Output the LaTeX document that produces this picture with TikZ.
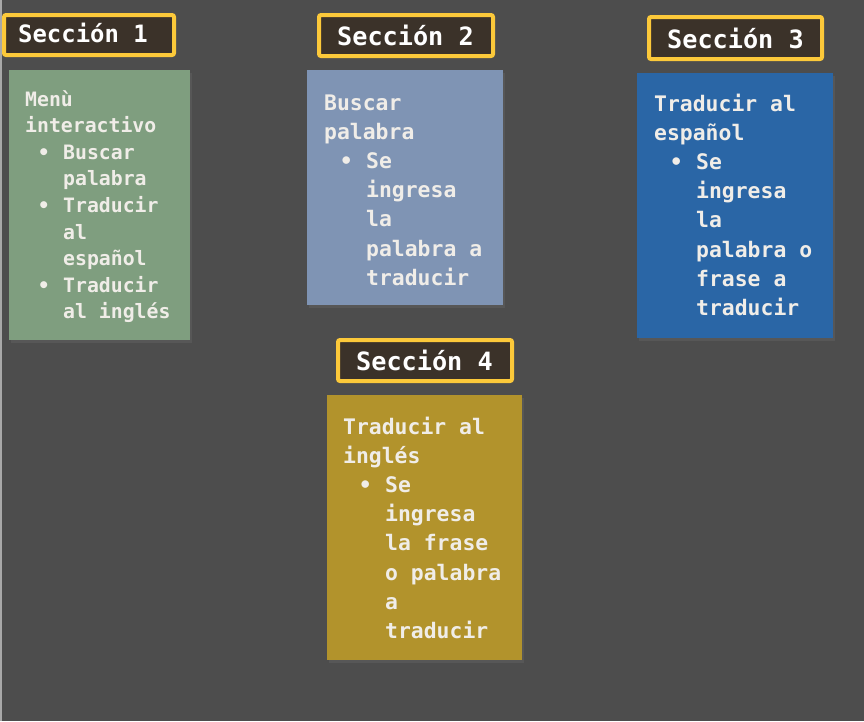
\documentclass[tikz,border=0pt]{standalone}
\usepackage{fontspec}
\setmonofont{DejaVu Sans Mono}
\usetikzlibrary{shadows}
\definecolor{bgc}{HTML}{4D4D4D}
\definecolor{edgec}{HTML}{A8A8A8}
\definecolor{titlefill}{HTML}{3B3229}
\definecolor{titleborder}{HTML}{FCC93A}
\definecolor{greenbox}{HTML}{7F9E7F}
\definecolor{greybluebox}{HTML}{7F94B4}
\definecolor{bluebox}{HTML}{2A66A6}
\definecolor{goldbox}{HTML}{B2932C}
\definecolor{txt}{HTML}{F0EDE8}
\newlength\indw
\newcommand\ind{\hspace*{\indw}}
\newcommand\bitem{\makebox[0pt][r]{•\hspace{13.5pt}}}
\tikzset{
  titlebox/.style={draw=titleborder, line width=4pt, fill=titlefill, rounded corners=2pt},
  cardbox/.style={draw=none, drop shadow={opacity=0.2, shadow xshift=1.5pt, shadow yshift=-2.5pt}},
  titletext/.style={anchor=base west, inner sep=0pt, text=white, font=\ttfamily\bfseries\fontsize{25.2}{30}\selectfont},
  cardtext/.style={anchor=base west, inner sep=0pt, text=txt, font=\ttfamily\bfseries\fontsize{21.4}{29.2}\selectfont},
}
\begin{document}
\begin{tikzpicture}[x=1pt,y=-1pt]
\useasboundingbox (0,0) rectangle (864,721);
\fill[bgc] (0,0) rectangle (864,721);
\fill[edgec] (0,0) rectangle (1.5,721);

% Section 1
\path[titlebox] (4,15) rectangle (174,55);
\node[titletext, font=\ttfamily\bfseries\fontsize{23.9}{28}\selectfont] (t1) at (18,42) {Sección 1};
\path[cardbox, fill=greenbox] (9,70) rectangle (190,340);
\node[cardtext, font=\ttfamily\bfseries\fontsize{19.8}{26.6}\selectfont] (c1) at (25,106) {\parbox[t]{170pt}{\raggedright\setlength\indw{38pt}%
Menù\\interactivo\\
\ind\bitem Buscar\\\ind palabra\\
\ind\bitem Traducir\\\ind al\\\ind español\\
\ind\bitem Traducir\\\ind al inglés}};

% Section 2
\path[titlebox] (319,15) rectangle (493,56);
\node[titletext] (t2) at (337,45) {Sección 2};
\path[cardbox, fill=greybluebox] (307,70) rectangle (503,305);
\node[cardtext] (c2) at (324,110) {\parbox[t]{185pt}{\raggedright\setlength\indw{42pt}%
Buscar\\palabra\\
\ind\bitem Se\\\ind ingresa\\\ind la\\\ind palabra a\\\ind traducir}};

% Section 3
\path[titlebox] (649,17) rectangle (822,59);
\node[titletext] (t3) at (667,48) {Sección 3};
\path[cardbox, fill=bluebox] (637,73) rectangle (833,338);
\node[cardtext] (c3) at (654,111) {\parbox[t]{185pt}{\raggedright\setlength\indw{42pt}%
Traducir al\\español\\
\ind\bitem Se\\\ind ingresa\\\ind la\\\ind palabra o\\\ind frase a\\\ind traducir}};

% Section 4
\path[titlebox] (338,340) rectangle (512,381);
\node[titletext] (t4) at (356,370) {Sección 4};
\path[cardbox, fill=goldbox] (327,395) rectangle (522,660);
\node[cardtext] (c4) at (343,434) {\parbox[t]{185pt}{\raggedright\setlength\indw{42pt}%
Traducir al\\inglés\\
\ind\bitem Se\\\ind ingresa\\\ind la frase\\\ind o palabra\\\ind a\\\ind traducir}};
\end{tikzpicture}
\end{document}
